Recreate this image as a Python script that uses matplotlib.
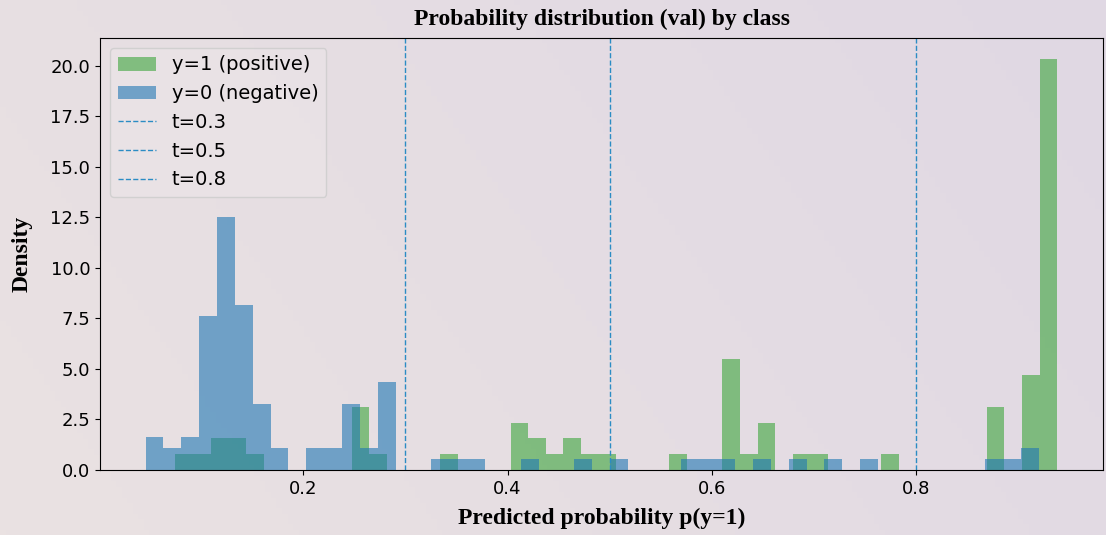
import numpy as np
import matplotlib
matplotlib.use("Agg")
import matplotlib.pyplot as plt

# 50 equal bins per class between the lowest and highest predicted prob
NEG_RANGE = (0.0456, 0.9200)
POS_RANGE = (0.0748, 0.9383)

neg_counts = [3, 2, 3, 14, 23, 15, 6, 2, 0, 2,
              2, 6, 2, 8, 0, 0, 1, 1, 1, 0,
              0, 1, 0, 0, 1, 0, 1, 0, 0, 0,
              1, 1, 1, 0, 1, 0, 1, 0, 1, 0,
              1, 0, 0, 0, 0, 0, 0, 1, 1, 2]
pos_counts = [1, 1, 2, 2, 1, 0, 0, 0, 0, 0,
              4, 1, 0, 0, 0, 1, 0, 0, 0, 3,
              2, 1, 2, 1, 1, 0, 0, 0, 1, 0,
              0, 7, 1, 3, 0, 1, 1, 0, 0, 0,
              1, 0, 0, 0, 0, 0, 4, 0, 6, 26]
thresholds = [0.3, 0.5, 0.8]

W, H, DPI = 1106, 535, 100
fig = plt.figure(figsize=(W / DPI, H / DPI), dpi=DPI)

# soft pink -> lavender backdrop
bg = fig.add_axes([0, 0, 1, 1], zorder=-10)
gx, gy = np.meshgrid(np.linspace(0, 1, 200), np.linspace(0, 1, 100))
t = np.clip(0.75 * gx + 0.25 * (1 - gy), 0, 1)
c0 = np.array([234, 226, 226]) / 255
c1 = np.array([224, 216, 228]) / 255
img = c0[None, None, :] * (1 - t[..., None]) + c1[None, None, :] * t[..., None]
bg.imshow(img, aspect="auto", extent=[0, 1, 0, 1], origin="upper")
bg.axis("off")

ax = fig.add_axes([100 / W, 1 - 470 / H, (1103 - 100) / W, (470 - 38) / H])
ax.set_facecolor("none")


def hist(counts, rng, **kw):
    edges = np.linspace(rng[0], rng[1], len(counts) + 1)
    centers = (edges[:-1] + edges[1:]) / 2
    ax.hist(centers, bins=edges, weights=counts, density=True, **kw)


hist(pos_counts, POS_RANGE, color="#2ca02c", alpha=0.55, label="y=1 (positive)")
hist(neg_counts, NEG_RANGE, color="#1f77b4", alpha=0.6, label="y=0 (negative)")

for th in thresholds:
    ax.axvline(th, color="#2b8cc4", ls="--", lw=1, label=f"t={th}")

ax.set_xticks([0.2, 0.4, 0.6, 0.8])
ax.tick_params(labelsize=13)
serif = ["Liberation Serif", "DejaVu Serif"]
ax.set_title("Probability distribution (val) by class", fontsize=17,
             fontweight="bold", family=serif, pad=9)
ax.set_xlabel("Predicted probability p(y=1)", fontsize=17, fontweight="bold",
              family=serif, labelpad=7)
ax.set_ylabel("Density", fontsize=17, fontweight="bold", family=serif)
ax.yaxis.set_label_coords(-0.067, 0.5)

leg = ax.legend(loc="upper left", fontsize=14)
frame = leg.get_frame()
frame.set_alpha(None)
frame.set_facecolor((1, 1, 1, 0.12))
frame.set_edgecolor((0.8, 0.8, 0.8, 0.8))

fig.savefig("out.png", dpi=DPI)
